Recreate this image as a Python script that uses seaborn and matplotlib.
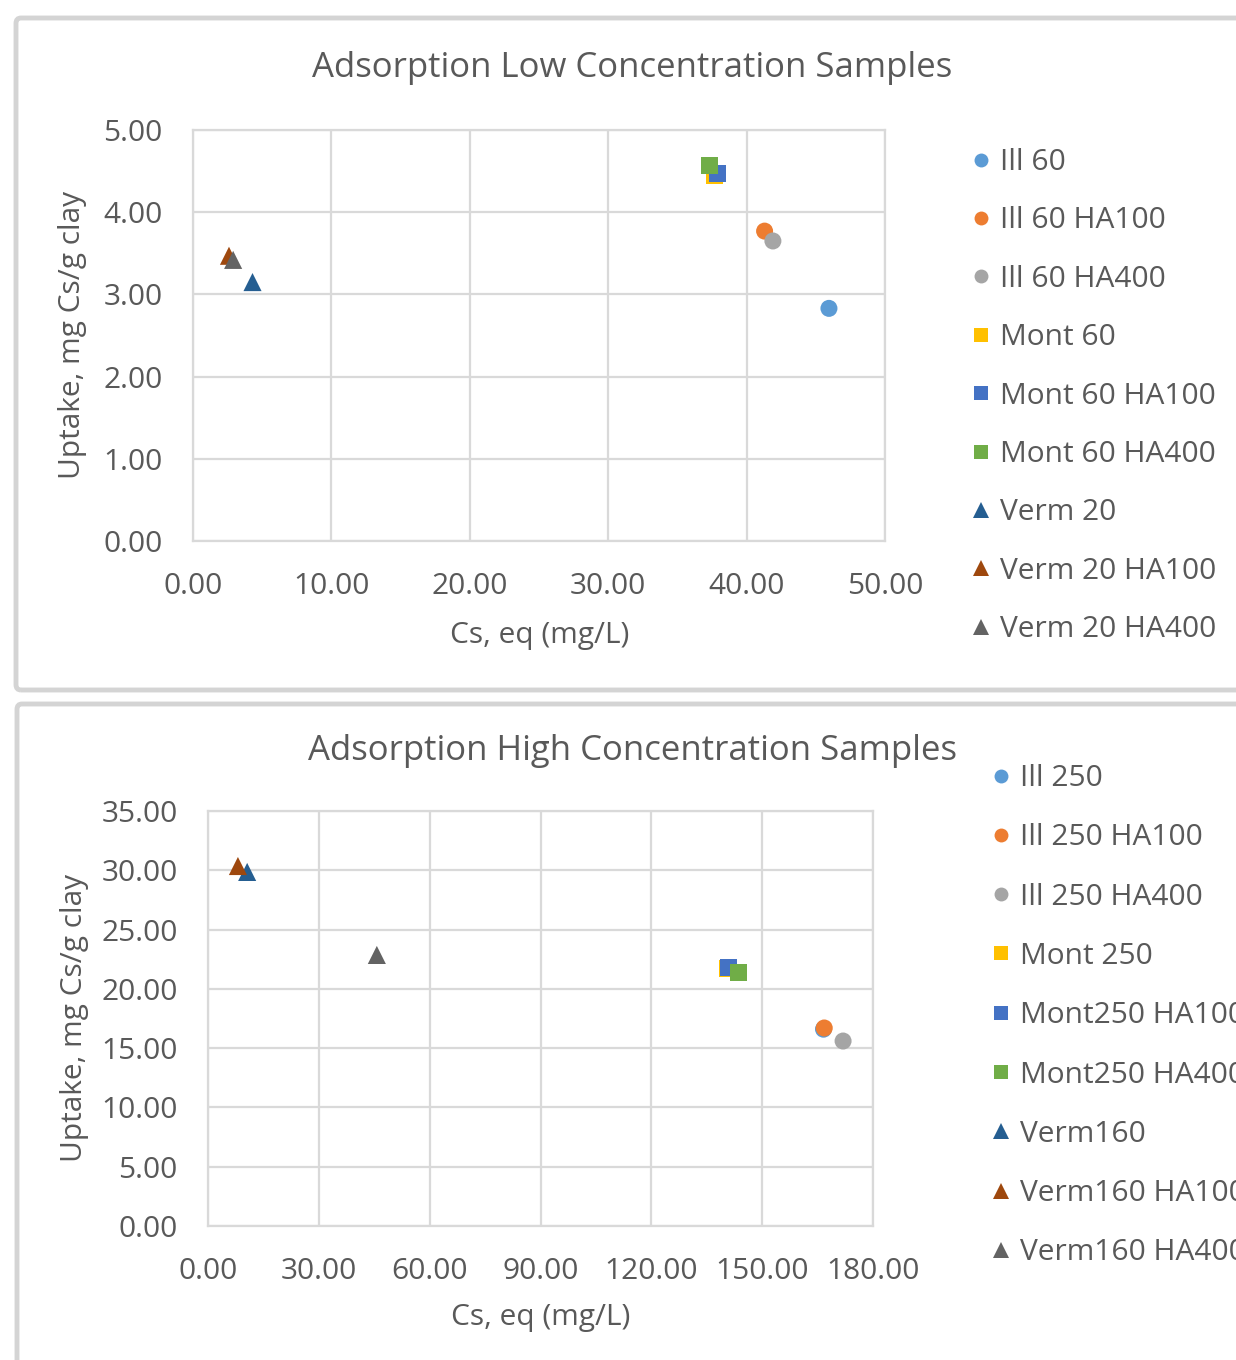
import matplotlib
matplotlib.use("Agg")
import matplotlib.pyplot as plt
import seaborn as sns
import pandas as pd
from matplotlib.patches import FancyBboxPatch
from matplotlib.lines import Line2D

sns.set_theme(style="white")
plt.rcParams['font.family'] = ['Open Sans', 'DejaVu Sans']

TXT = "#595959"
GRID = "#d9d9d9"

# ---------------- data ----------------
low_labels = ["Ill 60", "Ill 60 HA100", "Ill 60 HA400", "Mont 60", "Mont 60 HA100",
              "Mont 60 HA400", "Verm 20", "Verm 20 HA100", "Verm 20 HA400"]
low_x = [45.95, 41.3, 41.9, 37.7, 37.9, 37.3, 4.3, 2.6, 2.9]
low_y = [2.83, 3.77, 3.65, 4.45, 4.47, 4.57, 3.15, 3.47, 3.42]

high_labels = ["Ill 250", "Ill 250 HA100", "Ill 250 HA400", "Mont 250", "Mont250 HA100",
               "Mont250 HA400", "Verm160", "Verm160 HA100", "Verm160 HA400"]
high_x = [166.6, 166.8, 171.9, 140.6, 140.8, 143.5, 10.6, 8.1, 45.7]
high_y = [16.6, 16.7, 15.6, 21.7, 21.76, 21.34, 29.86, 30.36, 22.86]

colors = ["#5B9BD5", "#ED7D31", "#A5A5A5", "#FFC000", "#4472C4",
          "#70AD47", "#255E91", "#9E480E", "#636363"]
markers = ["o", "o", "o", "s", "s", "s", "^", "^", "^"]

low_xticks = [0, 10, 20, 30, 40, 50]
low_yticks = [0, 1, 2, 3, 4, 5]
high_xticks = [0, 30, 60, 90, 120, 150, 180]
high_yticks = [0, 5, 10, 15, 20, 25, 30, 35]

W, H = 1236, 1360
fig = plt.figure(figsize=(W / 100, H / 100), dpi=100)

# panel frames
for (x0, y0, x1, y1) in [(16, 18, 1260, 690), (17, 704, 1260, 1390)]:
    fig.patches.append(FancyBboxPatch((x0 / W, 1 - y1 / H), (x1 - x0) / W, (y1 - y0) / H,
                                      boxstyle="round,pad=0,rounding_size=0.004",
                                      transform=fig.transFigure, facecolor="none",
                                      edgecolor="#d4d4d4", linewidth=3.5, zorder=-1))


def make_panel(rect, labels, xs, ys, xticks, yticks, title, title_xy, ylab_xy, xlab_xy,
               legend_xy, spacing):
    l, t, r, b = rect
    ax = fig.add_axes([l / W, 1 - b / H, (r - l) / W, (b - t) / H])
    ax.set_facecolor("none")
    for i, lab in enumerate(labels):
        df = pd.DataFrame({"x": [xs[i]], "y": [ys[i]]})
        sns.scatterplot(data=df, x="x", y="y", ax=ax, color=colors[i], marker=markers[i],
                        s=150 if markers[i] != "^" else 170, edgecolor="none", zorder=3,
                        legend=False)
    ax.set_xlim(xticks[0], xticks[-1])
    ax.set_ylim(yticks[0], yticks[-1])
    ax.set_xticks(xticks)
    ax.set_yticks(yticks)
    ax.set_xticklabels([f"{v:.2f}" for v in xticks])
    ax.set_yticklabels([f"{v:.2f}" for v in yticks])
    ax.tick_params(axis="both", length=0, labelsize=21.5, labelcolor=TXT)
    ax.tick_params(axis="x", pad=22)
    ax.tick_params(axis="y", pad=22)
    ax.grid(True, color=GRID, linewidth=1.6)
    for s in ax.spines.values():
        s.set_color(GRID)
        s.set_linewidth(1.6)
    ax.set_xlabel("")
    ax.set_ylabel("")
    fig.text(title_xy[0] / W, 1 - title_xy[1] / H, title, ha="center", va="center",
             fontsize=25, color=TXT)
    fig.text(ylab_xy[0] / W, 1 - ylab_xy[1] / H, "Uptake, mg Cs/g clay", ha="center",
             va="center", rotation=90, fontsize=21.5, color=TXT)
    fig.text(xlab_xy[0] / W, 1 - xlab_xy[1] / H, "Cs, eq (mg/L)", ha="center", va="center",
             fontsize=21.5, color=TXT)
    handles = [Line2D([], [], linestyle="none", marker=markers[i], color=colors[i],
                      markersize=10 if markers[i] != "^" else 11, markeredgewidth=0)
               for i in range(len(labels))]
    fig.legend(handles, labels, loc="upper left",
               bbox_to_anchor=(legend_xy[0] / W, 1 - legend_xy[1] / H),
               frameon=False, fontsize=21.5, labelcolor=TXT, handlelength=0.6,
               handletextpad=0.35, labelspacing=spacing, borderaxespad=0,
               borderpad=0)
    return ax


make_panel((193, 130, 885, 541), low_labels, low_x, low_y, low_xticks, low_yticks,
           "Adsorption Low Concentration Samples", (632, 68), (73, 335), (540, 636),
           (972, 148), 0.985)
make_panel((208, 811, 873, 1226), high_labels, high_x, high_y, high_xticks, high_yticks,
           "Adsorption High Concentration Samples", (633, 751), (75, 1018), (541, 1318),
           (992, 764), 1.015)

fig.savefig("out.png", dpi=100)
